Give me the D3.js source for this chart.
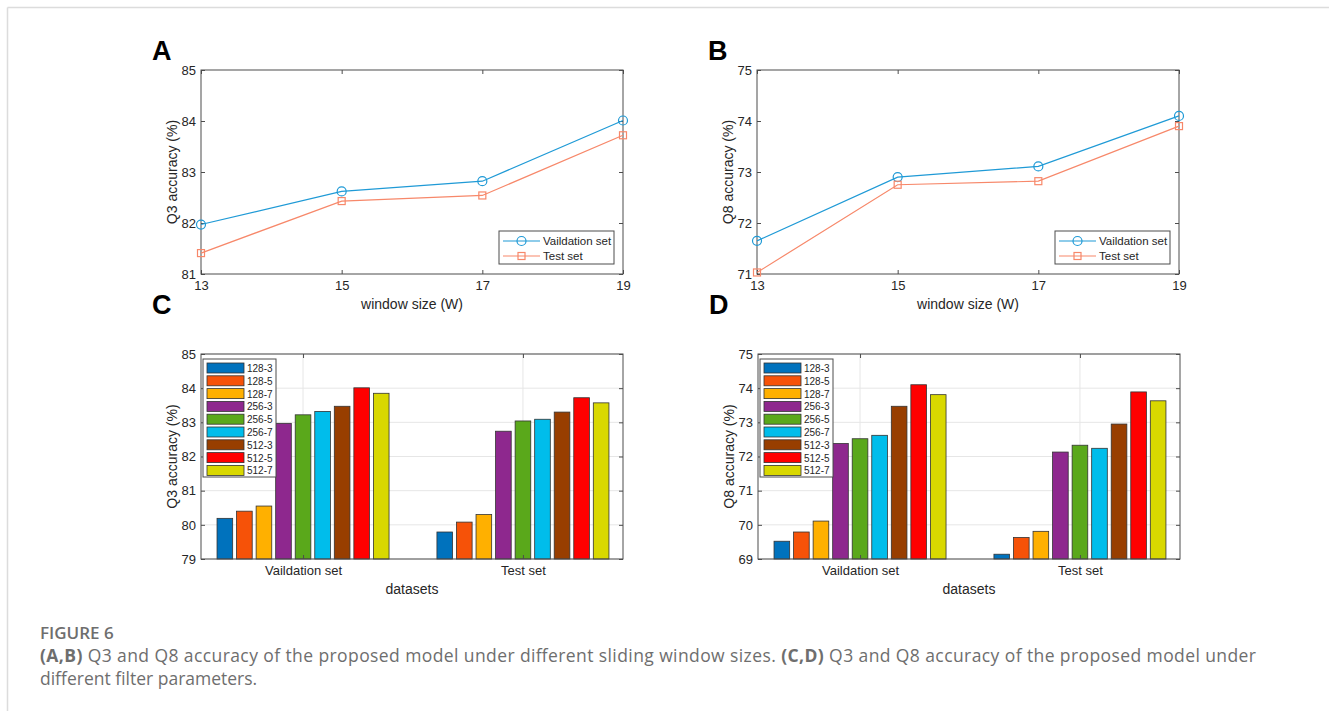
<!DOCTYPE html>
<html>
<head>
<meta charset="utf-8">
<title>Figure 6</title>
<script src="https://d3js.org/d3.v7.min.js"></script>
<style>
  body { margin: 0; background: #fff; }
  text { font-family: "Liberation Sans", Arial, sans-serif; }
  .cap { font-family: "Open Sans", sans-serif; fill: #6e6e6e; }
</style>
</head>
<body>
<div id="chart"></div>
<script>
// window size panels (A, B)
const windows = [13, 15, 17, 19];
const q3Valid = [81.97, 82.62, 82.82, 84.01];
const q3Test  = [81.41, 82.43, 82.54, 83.72];
const q8Valid = [71.65, 72.90, 73.11, 74.10];
const q8Test  = [71.03, 72.75, 72.82, 73.90];

// filter panels (C, D)
const datasets = ["Vaildation set", "Test set"];
const filters = ["128-3", "128-5", "128-7", "256-3", "256-5", "256-7", "512-3", "512-5", "512-7"];
const filterColors = ["#0072bd", "#f65208", "#ffb000", "#8e288e", "#5aa81b", "#00bdeb", "#983e00", "#ff0000", "#d9d800"];
const q3Bars = [
  [80.19, 80.40, 80.55, 82.97, 83.22, 83.32, 83.47, 84.01, 83.85],
  [79.79, 80.08, 80.30, 82.74, 83.04, 83.09, 83.30, 83.72, 83.57]
];
const q8Bars = [
  [69.52, 69.79, 70.11, 72.38, 72.52, 72.62, 73.47, 74.10, 73.81],
  [69.14, 69.63, 69.81, 72.13, 72.33, 72.24, 72.95, 73.89, 73.63]
];

const W = 1329, H = 711;
const svg = d3.select("#chart").append("svg").attr("width", W).attr("height", H);

// page frame
svg.append("line").attr("x1", 7.5).attr("x2", W).attr("y1", 7.5).attr("y2", 7.5).attr("stroke", "#dcdcdc").attr("stroke-width", 1.5);
svg.append("line").attr("x1", 7.5).attr("x2", 7.5).attr("y1", 7.5).attr("y2", H).attr("stroke", "#dcdcdc").attr("stroke-width", 1.5);

const axisCol = "#4d4d4d";
const fmt = d3.format("d");

function frame(g, x0, x1, y0, y1) {
  g.append("rect").attr("x", x0).attr("y", y0).attr("width", x1 - x0).attr("height", y1 - y0)
    .attr("fill", "none").attr("stroke", axisCol).attr("stroke-width", 1);
}

function styleAxis(sel) {
  sel.select(".domain").remove();
  sel.selectAll(".tick line").attr("stroke", axisCol);
  sel.selectAll(".tick text").attr("fill", "#262626").style("font-size", "13px");
}

function linePanel(opts) {
  const g = svg.append("g");
  const x = d3.scaleLinear().domain([13, 19]).range([opts.left, opts.right]);
  const y = d3.scaleLinear().domain(opts.yDomain).range([274, 70]);

  // ticks on both sides, pointing inward
  g.append("g").attr("transform", `translate(0,274)`)
    .call(d3.axisBottom(x).tickValues(windows).tickSize(-4).tickPadding(7).tickFormat(fmt)).call(styleAxis);
  g.append("g").attr("transform", `translate(0,70)`)
    .call(d3.axisTop(x).tickValues(windows).tickSize(-4).tickFormat("")).call(styleAxis);
  g.append("g").attr("transform", `translate(${opts.left},0)`)
    .call(d3.axisLeft(y).ticks(4).tickSize(-4).tickPadding(5).tickFormat(fmt)).call(styleAxis);
  g.append("g").attr("transform", `translate(${opts.right},0)`)
    .call(d3.axisRight(y).ticks(4).tickSize(-4).tickFormat("")).call(styleAxis);
  frame(g, opts.left, opts.right, 70, 274);

  const series = [
    {vals: opts.valid, color: "#1f9ad6", mark: "circle"},
    {vals: opts.test, color: "#f7886a", mark: "square"}
  ];
  const line = d3.line().x((d, i) => x(windows[i])).y(d => y(d));
  series.forEach(s => {
    g.append("path").datum(s.vals).attr("d", line).attr("fill", "none")
      .attr("stroke", s.color).attr("stroke-width", 1.2);
    if (s.mark === "circle") {
      g.selectAll(null).data(s.vals).enter().append("circle")
        .attr("cx", (d, i) => x(windows[i])).attr("cy", d => y(d)).attr("r", 4.5)
        .attr("fill", "none").attr("stroke", s.color).attr("stroke-width", 1.2);
    } else {
      g.selectAll(null).data(s.vals).enter().append("rect")
        .attr("x", (d, i) => x(windows[i]) - 3.5).attr("y", d => y(d) - 3.5)
        .attr("width", 7).attr("height", 7)
        .attr("fill", "none").attr("stroke", s.color).attr("stroke-width", 1.2);
    }
  });

  // legend
  const lx = opts.right - 124, ly = 231;
  g.append("rect").attr("x", lx).attr("y", ly).attr("width", 115).attr("height", 33)
    .attr("fill", "#fff").attr("stroke", axisCol).attr("stroke-width", 1);
  ["Vaildation set", "Test set"].forEach((name, i) => {
    const yy = ly + 10 + i * 15;
    const s = series[i];
    g.append("line").attr("x1", lx + 4).attr("x2", lx + 41).attr("y1", yy).attr("y2", yy)
      .attr("stroke", s.color).attr("stroke-width", 1.2);
    if (s.mark === "circle") {
      g.append("circle").attr("cx", lx + 22.5).attr("cy", yy).attr("r", 4.5)
        .attr("fill", "none").attr("stroke", s.color).attr("stroke-width", 1.2);
    } else {
      g.append("rect").attr("x", lx + 19).attr("y", yy - 3.5).attr("width", 7).attr("height", 7)
        .attr("fill", "none").attr("stroke", s.color).attr("stroke-width", 1.2);
    }
    g.append("text").attr("x", lx + 44).attr("y", yy + 4).attr("font-size", "11.5px")
      .attr("fill", "#262626").text(name);
  });

  g.append("text").attr("x", (opts.left + opts.right) / 2).attr("y", 309)
    .attr("text-anchor", "middle").attr("font-size", "14px").attr("fill", "#262626")
    .text("window size (W)");
  g.append("text").attr("transform", `translate(${opts.left - 24},172) rotate(-90)`)
    .attr("text-anchor", "middle").attr("font-size", "14px").attr("fill", "#262626")
    .text(opts.ylabel);
  g.append("text").attr("x", opts.left - 49).attr("y", 60).attr("font-size", "27px")
    .attr("font-weight", "bold").attr("fill", "#000").text(opts.letter);
}

function barPanel(opts) {
  const g = svg.append("g");
  const top = 354, bottom = 559;
  const x = d3.scaleLinear().domain([0.536, 2.455]).range([opts.left, opts.right]);
  const y = d3.scaleLinear().domain(opts.yDomain).range([bottom, top]);
  const yTicks = d3.range(opts.yDomain[0], opts.yDomain[1] + 1);

  // grid
  g.selectAll(null).data(yTicks).enter().append("line")
    .attr("x1", opts.left).attr("x2", opts.right).attr("y1", d => y(d)).attr("y2", d => y(d))
    .attr("stroke", "#e6e6e6");
  g.selectAll(null).data([1, 2]).enter().append("line")
    .attr("x1", d => x(d)).attr("x2", d => x(d)).attr("y1", top).attr("y2", bottom)
    .attr("stroke", "#e6e6e6");

  const pitch = 0.8 / filters.length;
  const bw = pitch * 0.8;
  opts.data.forEach((vals, gi) => {
    g.selectAll(null).data(vals).enter().append("rect")
      .attr("x", (d, i) => x(gi + 1 + (i - 4) * pitch - bw / 2))
      .attr("width", x(bw) - x(0))
      .attr("y", d => y(d)).attr("height", d => y(opts.yDomain[0]) - y(d))
      .attr("fill", (d, i) => filterColors[i]).attr("stroke", "#333").attr("stroke-width", 0.8);
  });

  g.append("g").attr("transform", `translate(0,${bottom})`)
    .call(d3.axisBottom(x).tickValues([1, 2]).tickSize(-4).tickPadding(7).tickFormat((d, i) => datasets[i]))
    .call(styleAxis);
  g.append("g").attr("transform", `translate(0,${top})`)
    .call(d3.axisTop(x).tickValues([1, 2]).tickSize(-4).tickFormat("")).call(styleAxis);
  g.append("g").attr("transform", `translate(${opts.left},0)`)
    .call(d3.axisLeft(y).tickValues(yTicks).tickSize(-4).tickPadding(5).tickFormat(fmt)).call(styleAxis);
  g.append("g").attr("transform", `translate(${opts.right},0)`)
    .call(d3.axisRight(y).tickValues(yTicks).tickSize(-4).tickFormat("")).call(styleAxis);
  frame(g, opts.left, opts.right, top, bottom);

  // legend
  const lx = opts.left + 2, ly = 359;
  g.append("rect").attr("x", lx).attr("y", ly).attr("width", 73).attr("height", 118)
    .attr("fill", "#fff").attr("stroke", axisCol).attr("stroke-width", 1);
  filters.forEach((f, i) => {
    const yy = ly + 9 + i * 12.8;
    g.append("rect").attr("x", lx + 4).attr("y", yy - 5).attr("width", 37).attr("height", 10)
      .attr("fill", filterColors[i]).attr("stroke", "#333").attr("stroke-width", 0.8);
    g.append("text").attr("x", lx + 44).attr("y", yy + 4).attr("font-size", "10px")
      .attr("fill", "#262626").text(f);
  });

  g.append("text").attr("x", (opts.left + opts.right) / 2).attr("y", 594)
    .attr("text-anchor", "middle").attr("font-size", "14px").attr("fill", "#262626")
    .text("datasets");
  g.append("text").attr("transform", `translate(${opts.left - 24},${(top + bottom) / 2}) rotate(-90)`)
    .attr("text-anchor", "middle").attr("font-size", "14px").attr("fill", "#262626")
    .text(opts.ylabel);
  g.append("text").attr("x", opts.left - 49).attr("y", 314).attr("font-size", "27px")
    .attr("font-weight", "bold").attr("fill", "#000").text(opts.letter);
}

linePanel({letter: "A", left: 201, right: 623, yDomain: [81, 85], valid: q3Valid, test: q3Test, ylabel: "Q3 accuracy (%)"});
linePanel({letter: "B", left: 757, right: 1179, yDomain: [71, 75], valid: q8Valid, test: q8Test, ylabel: "Q8 accuracy (%)"});
barPanel({letter: "C", left: 201, right: 623, yDomain: [79, 85], data: q3Bars, ylabel: "Q3 accuracy (%)"});
barPanel({letter: "D", left: 758, right: 1180, yDomain: [69, 75], data: q8Bars, ylabel: "Q8 accuracy (%)"});

// caption
svg.append("text").attr("class", "cap").attr("x", 40).attr("y", 639)
  .attr("font-size", "17px").attr("font-weight", 600).text("FIGURE 6");
const l1 = svg.append("text").attr("class", "cap").attr("x", 40).attr("y", 662)
  .attr("font-size", "17.5px").attr("textLength", 1216).attr("lengthAdjust", "spacing");
l1.append("tspan").attr("font-weight", 700).text("(A,B)");
l1.append("tspan").text(" Q3 and Q8 accuracy of the proposed model under different sliding window sizes. ");
l1.append("tspan").attr("font-weight", 700).text("(C,D)");
l1.append("tspan").text(" Q3 and Q8 accuracy of the proposed model under");
svg.append("text").attr("class", "cap").attr("x", 40).attr("y", 685).attr("font-size", "17.5px")
  .text("different filter parameters.");
</script>
</body>
</html>
